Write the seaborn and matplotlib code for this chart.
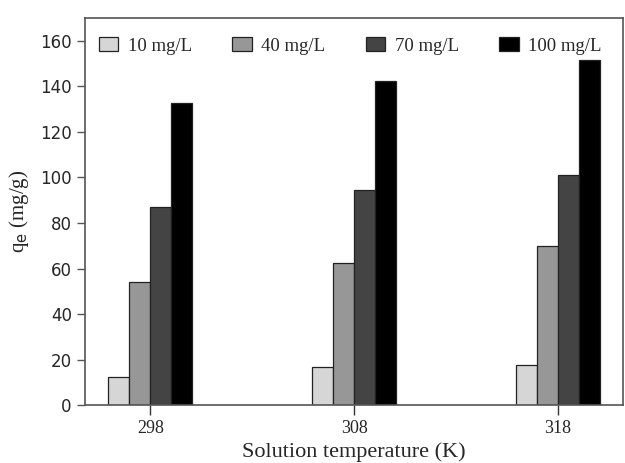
import pandas as pd
import matplotlib.pyplot as plt
import seaborn as sns

temps = ['298', '308', '318']
concs = ['10 mg/L', '40 mg/L', '70 mg/L', '100 mg/L']
qe_10 = [12.4, 16.8, 17.8]
qe_40 = [54.1, 62.6, 69.7]
qe_70 = [87.2, 94.6, 101.1]
qe_100 = [132.8, 142.5, 151.7]
colors = ['#d6d6d6', '#979797', '#444444', '#000000']

rows = []
for c, vals in zip(concs, [qe_10, qe_40, qe_70, qe_100]):
    for t, v in zip(temps, vals):
        rows.append({'temp': t, 'conc': c, 'qe': v})
df = pd.DataFrame(rows)

sns.set_style('ticks')
plt.rcParams['font.family'] = ['Liberation Serif', 'DejaVu Serif']

fig = plt.figure(figsize=(6.25, 4.63), dpi=100)
ax = fig.add_axes([0.136, 0.125, 0.861, 0.836])

sns.barplot(data=df, x='temp', y='qe', hue='conc', order=temps, hue_order=concs,
            palette=colors, width=0.41, gap=0, edgecolor='#222222', linewidth=0.9,
            saturation=1, ax=ax)

ax.set_xlim(-0.32, 2.32)
ax.set_ylim(0, 170)
ax.set_yticks(range(0, 161, 20))
for lab in ax.get_yticklabels():
    lab.set_family(['DejaVu Sans'])
    lab.set_fontsize(12)
ax.tick_params(axis='x', labelsize=13, length=7, width=1, color='#333333')
ax.tick_params(axis='y', length=6, width=1, color='#555555')
for s in ax.spines.values():
    s.set_color('#555555')
    s.set_linewidth(1.2)

ax.set_xlabel('Solution temperature (K)', fontsize=16)
ax.set_ylabel(r'q$_\mathrm{e}$ (mg/g)', fontsize=15)
ax.yaxis.set_label_coords(-0.1, 0.5)

ax.legend(loc='upper left', bbox_to_anchor=(0.008, 0.975), ncol=4, frameon=False,
          fontsize=13.5, handlelength=1.05, handleheight=0.8, handletextpad=0.5,
          columnspacing=2.15, borderpad=0)

plt.savefig('out.png', dpi=100)
plt.close()
